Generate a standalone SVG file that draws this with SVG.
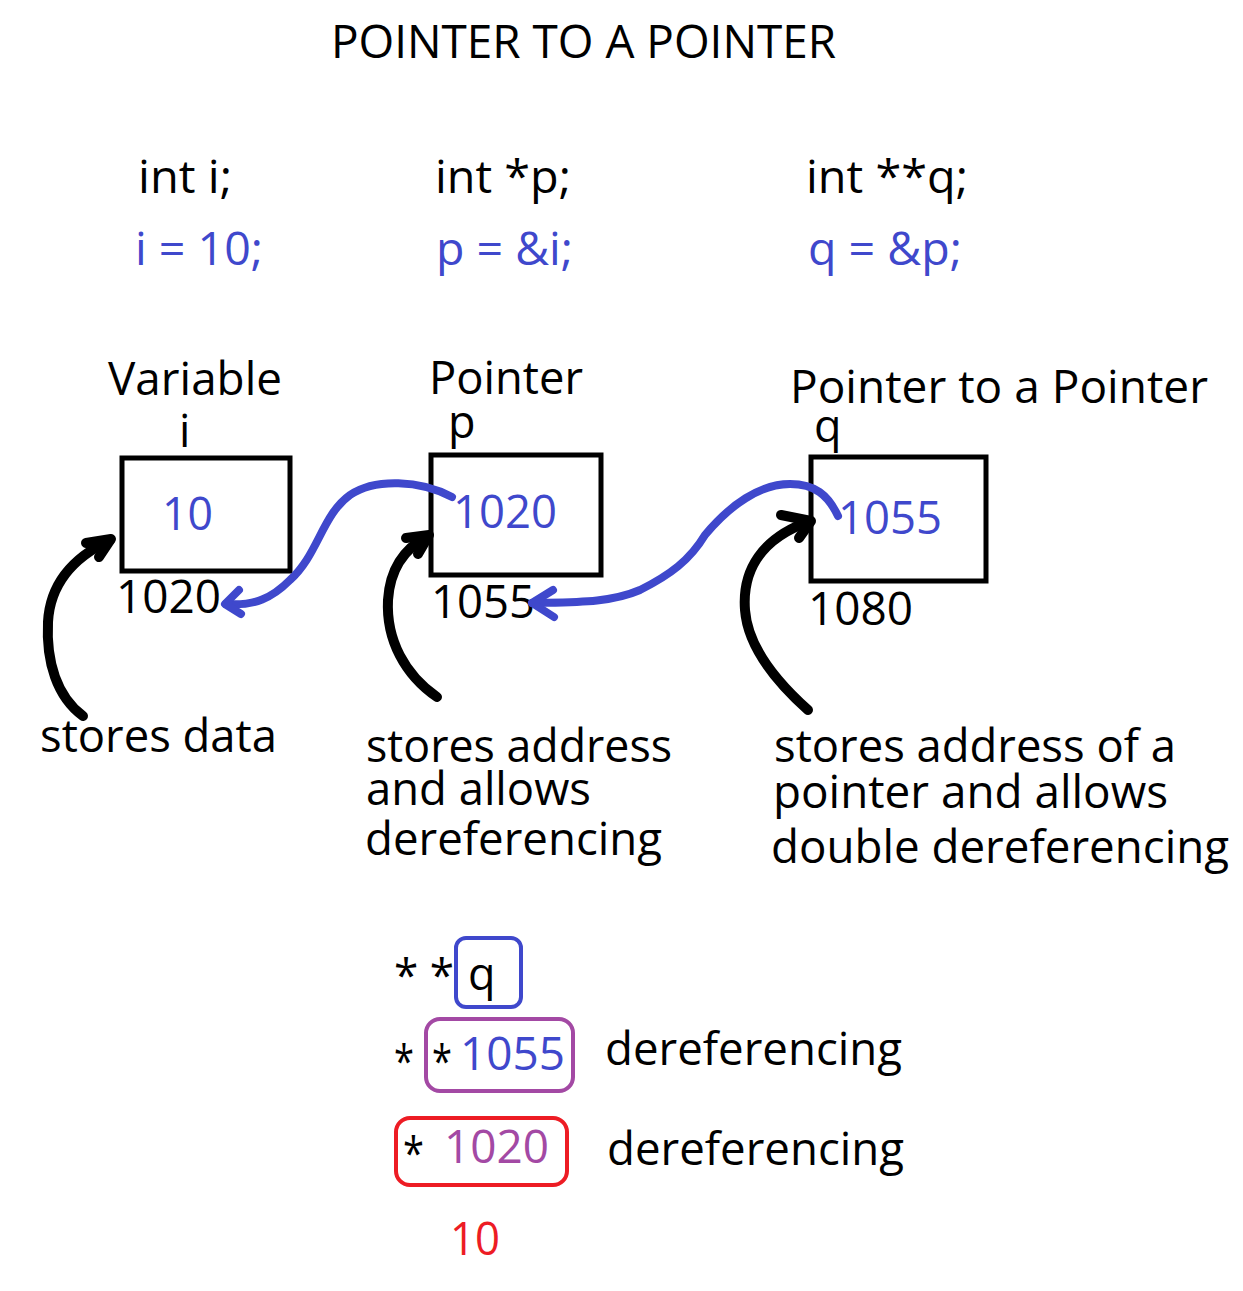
<svg xmlns="http://www.w3.org/2000/svg" width="1243" height="1291" viewBox="0 0 1243 1291">
<defs>
<style>
text{font-family:"Open Sans","DejaVu Sans",sans-serif;font-size:45px;fill:#000}
.b{fill:#3f48cc}
.pu{fill:#a349a4}
.r{fill:#ed1c24}
.box{fill:none;stroke:#000;stroke-width:5}
.blk{fill:none;stroke:#000;stroke-width:10;stroke-linecap:round;stroke-linejoin:round}
.bl{fill:none;stroke:#3f48cc;stroke-width:8;stroke-linecap:round;stroke-linejoin:round}
</style>
</defs>
<rect width="1243" height="1291" fill="#fff"/>
<text x="331" y="58" font-size="47" textLength="505" lengthAdjust="spacingAndGlyphs">POINTER TO A POINTER</text>
<g id="code">
<text x="138" y="193" textLength="94" lengthAdjust="spacingAndGlyphs">int i;</text>
<text class="b" x="135" y="265" textLength="128" lengthAdjust="spacingAndGlyphs">i = 10;</text>
<text x="435" y="193" textLength="136" lengthAdjust="spacingAndGlyphs">int *p;</text>
<text class="b" x="436" y="265" textLength="137" lengthAdjust="spacingAndGlyphs">p = &amp;i;</text>
<text x="806" y="193" textLength="162" lengthAdjust="spacingAndGlyphs">int **q;</text>
<text class="b" x="808" y="265" textLength="154" lengthAdjust="spacingAndGlyphs">q = &amp;p;</text>
</g>
<g id="node-i">
<text x="108" y="395" textLength="174" lengthAdjust="spacingAndGlyphs">Variable</text>
<text x="179" y="447">i</text>
<rect class="box" x="122" y="458" width="168" height="113"/>
<text class="b" x="162" y="530" textLength="51" lengthAdjust="spacingAndGlyphs">10</text>
<text x="116" y="613" textLength="105" lengthAdjust="spacingAndGlyphs">1020</text>
</g>
<g id="node-p">
<text x="429" y="394" textLength="154" lengthAdjust="spacingAndGlyphs">Pointer</text>
<text x="448" y="438">p</text>
<rect class="box" x="431" y="455" width="170" height="120"/>
<text class="b" x="453" y="528" textLength="104" lengthAdjust="spacingAndGlyphs">1020</text>
<text x="431" y="618" textLength="104" lengthAdjust="spacingAndGlyphs">1055</text>
</g>
<g id="node-q">
<text x="790" y="403" textLength="418" lengthAdjust="spacingAndGlyphs">Pointer to a Pointer</text>
<text x="814" y="442">q</text>
<rect class="box" x="811" y="457" width="175" height="124"/>
<text class="b" x="838" y="534" textLength="104" lengthAdjust="spacingAndGlyphs">1055</text>
<text x="808" y="625" textLength="105" lengthAdjust="spacingAndGlyphs">1080</text>
</g>
<g id="labels">
<text x="40" y="752" textLength="237" lengthAdjust="spacingAndGlyphs">stores data</text>
<text x="366" y="762" textLength="306" lengthAdjust="spacingAndGlyphs">stores address</text>
<text x="366" y="805" textLength="225" lengthAdjust="spacingAndGlyphs">and allows</text>
<text x="365" y="855" textLength="297" lengthAdjust="spacingAndGlyphs">dereferencing</text>
<text x="774" y="762" textLength="402" lengthAdjust="spacingAndGlyphs">stores address of a</text>
<text x="773" y="808" textLength="395" lengthAdjust="spacingAndGlyphs">pointer and allows</text>
<text x="771" y="863" textLength="458" lengthAdjust="spacingAndGlyphs">double dereferencing</text>
</g>
<g id="connectors">
<path class="bl" d="M452,497 C420,480 375,478 350,495 C322,515 318,555 290,580 C272,598 255,606 226,604"/>
<path class="bl" d="M239,590 L225,604 L241,614"/>
<path class="bl" d="M838,516 C828,495 815,484 790,484 C760,484 730,505 705,535 C690,560 670,575 640,590 C610,603 575,602 532,603"/>
<path class="bl" d="M553,590 L532,603 L554,617"/>
<path class="blk" d="M83,716 C57,697 46,662 48,622 C50,585 72,558 110,540"/>
<path class="blk" d="M86,543 L111,539 L99,557"/>
<path class="blk" d="M437,697 C405,675 386,640 388,600 C390,568 405,548 428,536"/>
<path class="blk" d="M406,538 L429,535 L418,554"/>
<path class="blk" d="M808,710 C780,685 748,650 745,610 C742,570 762,538 810,521"/>
<path class="blk" d="M781,515 L811,521 L799,538"/>
</g>
<g id="deref">
<text x="394" y="992" textLength="60" lengthAdjust="spacingAndGlyphs">* *</text>
<rect x="456" y="938" width="65" height="69" rx="10" fill="none" stroke="#3f48cc" stroke-width="4"/>
<text x="468" y="990">q</text>
<text x="394" y="1078" textLength="20" lengthAdjust="spacingAndGlyphs">*</text>
<rect x="426" y="1019" width="147" height="72" rx="14" fill="none" stroke="#a349a4" stroke-width="4"/>
<text x="432" y="1078" textLength="20" lengthAdjust="spacingAndGlyphs">*</text>
<text class="b" x="460" y="1070" textLength="105" lengthAdjust="spacingAndGlyphs">1055</text>
<text x="605" y="1065" textLength="297" lengthAdjust="spacingAndGlyphs">dereferencing</text>
<rect x="396" y="1118" width="171" height="67" rx="14" fill="none" stroke="#ed1c24" stroke-width="4"/>
<text x="403" y="1170" textLength="21" lengthAdjust="spacingAndGlyphs">*</text>
<text class="pu" x="444" y="1163" textLength="105" lengthAdjust="spacingAndGlyphs">1020</text>
<text x="607" y="1165" textLength="297" lengthAdjust="spacingAndGlyphs">dereferencing</text>
<text class="r" x="450" y="1255" textLength="50" lengthAdjust="spacingAndGlyphs">10</text>
</g>
</svg>
